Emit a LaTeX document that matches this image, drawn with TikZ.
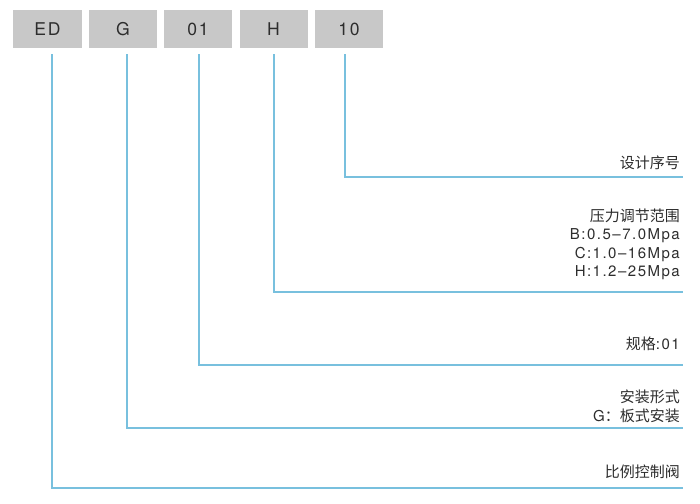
\documentclass[tikz,border=0pt]{standalone}
\usepackage{fontspec}
\setmainfont{TeX Gyre Heros}[LetterSpace=10]
\newfontfamily\cjk{Noto Sans CJK SC}
\usetikzlibrary{positioning}
\definecolor{codegray}{RGB}{200,200,200}
\definecolor{leadblue}{RGB}{120,192,222}
\definecolor{txtgray}{RGB}{45,45,45}

\begin{document}
\begin{tikzpicture}[x=0.03cm,y=-0.03cm,
  code/.style={fill=codegray,minimum width=2.04cm,minimum height=1.14cm,inner sep=0pt,text=txtgray,font=\fontsize{15}{17}\selectfont},
  lead/.style={draw=leadblue,line width=1pt},
  desc/.style={anchor=east,align=right,inner sep=0pt,text=txtgray,font=\fontsize{12.8}{15.8}\selectfont}]
\useasboundingbox (0,0) rectangle (700,504);
% code boxes
\node[code] (ed) at (47.5,29) {ED};
\node[code] (g) at (123,29) {G};
\node[code] (c01) at (198,29) {01};
\node[code] (h) at (273.5,29) {H};
\node[code] (c10) at (349,29) {10};
% line ends
\coordinate (k10) at (683,177);
\coordinate (kh) at (683,292);
\coordinate (k01) at (683,365);
\coordinate (kg) at (683,428);
\coordinate (ked) at (683,488);
% leads
\draw[lead] ([xshift=-0.12cm,yshift=-0.18cm]c10.south) |- (k10);
\draw[lead] ([xshift=0.015cm,yshift=-0.18cm]h.south) |- (kh);
\draw[lead] ([xshift=0.03cm,yshift=-0.18cm]c01.south) |- (k01);
\draw[lead] ([xshift=0.12cm,yshift=-0.18cm]g.south) |- (kg);
\draw[lead] ([xshift=0.135cm,yshift=-0.18cm]ed.south) |- (ked);
% descriptions
\node[desc] (l10) at (680,163) {\cjk 设计序号};
\node[desc] (lh) at (680,244.5) {{\cjk 压力调节范围}\\B:0.5--7.0Mpa\\C:1.0--16Mpa\\H:1.2--25Mpa};
\node[desc] (l01) at (680,344) {{\cjk 规格}:01};
\node[desc] (lg) at (680,406.5) {{\cjk 安装形式}\\G{\cjk ：板式安装}};
\node[desc] (led) at (680,472) {\cjk 比例控制阀};
\end{tikzpicture}
\end{document}
